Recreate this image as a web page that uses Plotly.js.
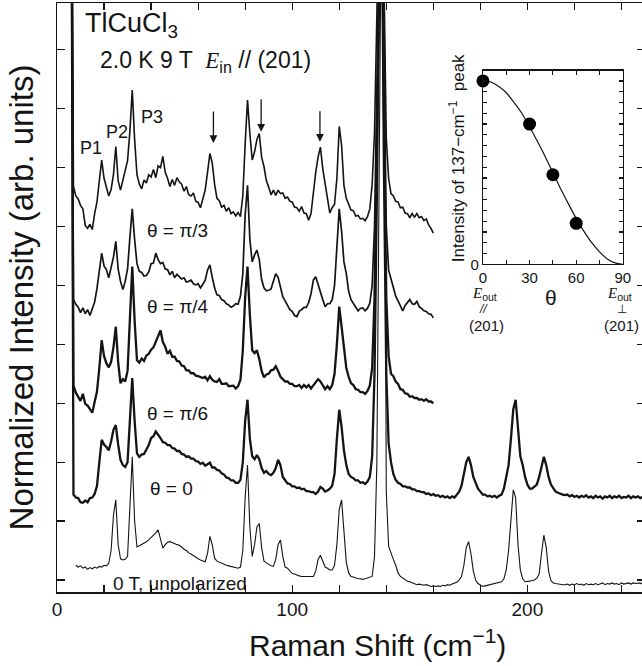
<!DOCTYPE html>
<html><head><meta charset="utf-8">
<script src="https://cdn.plot.ly/plotly-3.0.1.min.js"></script>
<style>html,body{margin:0;padding:0;overflow:hidden;background:#fff;width:642px;height:666px}</style>
</head><body><div id="chart" style="width:660px;height:666px"></div>
<script>
// Raman shift channels: spectra sampled every 1 cm^-1
const startAngled = 6;   // theta = pi/3, pi/4, pi/6 spectra: 6..160 cm^-1
const startTheta0 = 6;   // theta = 0 spectrum: 6..250 cm^-1
const start0T = 8;       // 0 T unpolarized spectrum: 8..250 cm^-1

const specPi3 = [
14.0,6.68,6.52,6.47,6.36,6.30,6.02,5.97,6.04,5.95,
6.22,6.42,6.78,7.13,6.82,6.66,6.52,6.63,6.88,7.36,
6.78,6.62,6.78,6.93,7.12,7.62,8.32,7.48,6.88,6.72,
6.64,6.79,6.74,6.88,6.84,6.97,6.83,7.03,7.00,7.19,
6.92,6.82,6.68,6.80,6.70,6.83,6.76,6.72,6.60,6.68,
6.54,6.52,6.57,6.43,6.41,6.32,6.47,6.62,6.92,7.24,
7.08,6.72,6.48,6.44,6.33,6.36,6.26,6.32,6.22,6.25,
6.18,6.24,6.17,6.52,7.40,8.15,7.58,7.13,7.27,7.48,
7.58,7.18,7.02,6.78,6.67,6.54,6.62,6.53,6.62,6.56,
6.57,6.48,6.50,6.43,6.42,6.33,6.32,6.26,6.34,6.23,
6.22,6.11,6.22,6.58,6.92,7.18,7.35,6.98,6.70,6.48,
6.23,6.32,6.38,6.82,7.70,7.38,6.70,6.48,6.36,6.28,
6.27,6.18,6.19,6.13,6.14,6.10,6.17,6.30,6.72,7.6,
9.6,13.0,14.0,10.2,7.5,6.82,6.56,6.52,6.43,6.42,
6.32,6.33,6.23,6.22,6.15,6.22,6.16,6.22,6.15,6.17,
6.10,6.13,6.03,5.97,5.89];

const specPi4 = [
14.0,4.76,4.68,4.63,4.54,4.62,4.52,4.59,4.49,4.61,
4.72,4.95,5.30,5.55,5.33,5.27,5.13,5.32,5.48,5.75,
5.28,5.07,4.93,5.07,5.28,5.82,6.30,5.78,5.37,5.24,
5.22,5.16,5.17,5.23,5.37,5.38,5.55,5.44,5.37,5.39,
5.28,5.27,5.18,5.24,5.13,5.19,5.14,5.11,5.13,5.06,
5.07,5.09,5.03,5.01,5.03,4.96,5.02,5.09,5.26,5.35,
5.14,4.96,4.84,4.83,4.76,4.74,4.69,4.67,4.63,4.65,
4.69,4.68,4.82,5.20,6.20,6.70,5.78,5.40,5.52,5.60,
5.44,5.10,4.96,4.91,4.92,4.94,5.07,5.20,5.14,4.96,
4.81,4.74,4.66,4.59,4.56,4.49,4.47,4.56,4.59,4.63,
4.63,4.71,4.86,5.09,5.15,5.01,4.89,4.76,4.64,4.69,
4.69,4.76,5.00,5.60,6.30,5.92,5.40,5.20,4.90,4.76,
4.69,4.63,4.57,4.61,4.62,4.57,4.61,4.70,5.00,6.0,
8.5,12.0,13.0,9.0,6.0,5.26,5.10,4.94,4.82,4.74,
4.66,4.57,4.66,4.71,4.76,4.69,4.68,4.73,4.64,4.61,
4.57,4.56,4.52,4.51,4.45];

const specPi6 = [
14.0,3.30,3.18,3.12,3.04,3.16,2.99,2.96,2.89,2.84,
3.02,3.20,3.60,4.07,3.80,3.68,3.61,3.70,3.95,4.30,
3.70,3.34,3.41,3.37,3.55,4.40,5.32,4.40,3.73,3.69,
3.76,3.72,3.81,3.84,3.91,3.95,4.06,4.14,4.24,4.04,
3.96,3.84,3.89,3.79,3.79,3.72,3.71,3.64,3.63,3.56,
3.56,3.51,3.51,3.47,3.46,3.44,3.43,3.45,3.39,3.46,
3.40,3.37,3.36,3.41,3.33,3.33,3.34,3.29,3.29,3.30,
3.25,3.29,3.40,3.90,4.80,5.32,4.50,3.90,3.85,3.90,
3.75,3.55,3.44,3.49,3.50,3.56,3.57,3.63,3.55,3.45,
3.41,3.37,3.37,3.33,3.33,3.29,3.29,3.31,3.26,3.31,
3.27,3.31,3.25,3.31,3.35,3.41,3.37,3.31,3.24,3.29,
3.24,3.31,3.50,4.00,4.64,4.30,3.90,3.60,3.45,3.34,
3.31,3.24,3.23,3.19,3.19,3.16,3.21,3.30,3.60,4.8,
7.5,11.0,12.5,8.0,4.8,3.80,3.50,3.46,3.37,3.33,
3.24,3.23,3.17,3.16,3.11,3.12,3.09,3.09,3.06,3.07,
3.04,3.07,3.03,3.03,3.00];

const specTheta0 = [
14.0,1.45,1.40,1.39,1.32,1.31,1.35,1.32,1.39,1.40,
1.46,1.60,2.00,2.38,2.30,2.26,2.20,2.35,2.55,2.63,
2.30,2.04,1.95,1.92,2.00,2.80,3.43,2.70,2.15,2.09,
2.13,2.14,2.21,2.29,2.41,2.44,2.52,2.47,2.41,2.34,
2.33,2.29,2.29,2.24,2.23,2.19,2.19,2.14,2.13,2.09,
2.10,2.06,2.06,2.02,2.01,1.97,1.99,1.94,1.96,1.99,
1.91,1.91,1.87,1.86,1.81,1.79,1.74,1.73,1.69,1.69,
1.65,1.65,1.70,2.00,2.70,3.06,2.40,2.10,2.05,2.12,
2.05,1.90,1.82,1.85,1.80,1.78,1.82,1.90,2.04,1.95,
1.75,1.69,1.64,1.63,1.59,1.59,1.56,1.57,1.54,1.55,
1.51,1.51,1.49,1.49,1.46,1.50,1.58,1.55,1.50,1.52,
1.55,1.60,1.80,2.40,2.89,2.60,2.20,1.95,1.80,1.75,
1.73,1.69,1.69,1.65,1.66,1.63,1.67,1.75,2.10,3.5,
6.5,10.5,12.0,7.0,3.5,2.32,2.00,1.80,1.70,1.65,
1.63,1.59,1.59,1.57,1.57,1.54,1.54,1.51,1.51,1.49,
1.49,1.46,1.47,1.44,1.46,1.43,1.44,1.41,1.43,1.40,
1.42,1.39,1.42,1.40,1.45,1.50,1.60,1.80,2.00,2.09,
1.95,1.75,1.65,1.55,1.50,1.45,1.45,1.42,1.43,1.41,
1.43,1.40,1.43,1.45,1.55,1.75,1.95,2.40,2.90,3.06,
2.60,2.10,1.95,1.75,1.62,1.55,1.55,1.58,1.62,1.75,
1.95,2.09,1.95,1.75,1.62,1.55,1.50,1.48,1.46,1.45,
1.44,1.45,1.42,1.44,1.41,1.43,1.40,1.43,1.41,1.44,
1.40,1.42,1.39,1.43,1.40,1.42,1.38,1.42,1.40,1.43,
1.39,1.42,1.40,1.43,1.39,1.41,1.40,1.43,1.39,1.42,
1.40,1.42,1.39,1.41,1.40];

const spec0T = [
0.25,0.22,0.24,0.20,0.22,0.18,0.21,0.19,0.22,0.20,
0.23,0.22,0.25,0.24,0.28,0.50,1.10,1.36,0.60,0.36,
0.34,0.35,0.40,1.20,2.09,1.00,0.56,0.58,0.60,0.63,
0.65,0.68,0.72,0.75,0.80,0.85,0.70,0.54,0.60,0.64,
0.65,0.64,0.62,0.60,0.59,0.56,0.52,0.50,0.46,0.44,
0.41,0.38,0.36,0.34,0.33,0.31,0.45,0.74,0.60,0.37,
0.32,0.30,0.28,0.27,0.25,0.24,0.23,0.22,0.21,0.20,
0.22,0.50,1.40,1.95,0.90,0.40,0.60,0.90,0.96,0.55,
0.32,0.29,0.26,0.24,0.23,0.35,0.60,0.68,0.40,0.22,
0.20,0.15,0.11,0.10,0.08,0.07,0.06,0.06,0.05,0.05,
0.05,0.06,0.15,0.35,0.42,0.30,0.22,0.20,0.17,0.17,
0.25,0.60,1.20,1.36,0.80,0.30,0.12,0.06,0.05,0.03,
0.02,0.02,0.01,0.02,0.03,0.05,0.06,0.40,2.0,7.0,
12.0,12.0,1.5,0.57,0.45,0.35,0.25,0.12,0.06,0.03,
0.00,-0.02,-0.03,-0.05,-0.06,-0.08,-0.07,-0.08,-0.09,-0.08,
-0.10,-0.11,-0.10,-0.11,-0.10,-0.11,-0.09,-0.10,-0.08,-0.09,
-0.07,-0.06,-0.04,0.00,0.06,0.25,0.55,0.65,0.45,0.15,
0.00,-0.06,-0.09,-0.11,-0.10,-0.09,-0.08,-0.08,-0.07,-0.06,
-0.05,-0.03,0.02,0.17,0.50,1.10,1.53,1.40,0.60,0.17,
0.02,-0.03,-0.03,-0.02,-0.01,0.00,0.03,0.10,0.45,0.76,
0.55,0.15,-0.01,-0.05,-0.06,-0.07,-0.08,-0.08,-0.08,-0.07,
-0.09,-0.07,-0.08,-0.06,-0.08,-0.07,-0.09,-0.06,-0.08,-0.07,
-0.08,-0.06,-0.08,-0.07,-0.05,-0.08,-0.06,-0.07,-0.05,-0.07,
-0.06,-0.08,-0.05,-0.07,-0.06,-0.05,-0.07,-0.05,-0.06,-0.06,
-0.05,-0.07,-0.06];

// main x-axis: labelled ticks every 100, minor ticks every 20
const xTickVals = [0, 100, 200];
const xMinorStep = 20;

// inset: intensity of the 137 cm^-1 peak vs theta
const insetTheta = [0, 30, 45, 60];
const insetIntensity = [17.0, 13.0, 8.3, 3.8];
const fitTheta = [0,5,10,15,20,25,30,35,40,45,50,55,60,65,70,75,80,85,90];
const fitIntensity = [17.0,16.9,16.5,15.9,15.0,14.0,12.75,11.4,10.0,8.5,7.0,5.6,4.25,3.05,2.0,1.15,0.5,0.13,0.0];
const insetXTickVals = [0, 30, 60, 90];
const insetXMinorStep = 15;
const insetYTickVals = [0];
const insetYMinorStep = 1;

function shifts(start, n){ const a=[]; for(let i=0;i<n;i++) a.push(start+i); return a; }

const SANS = '"Liberation Sans", Arial, Helvetica, sans-serif';
const SERIF_E = (sub) => '<span style="font-family:\'Liberation Serif\',serif;font-style:italic">E</span><sub>' + sub + '</sub>';
const INK = '#141414';

function spec(start, vals, w){
  return {type:'scatter', mode:'lines', x:shifts(start, vals.length), y:vals,
    line:{color:INK, width:w}, xaxis:'x', yaxis:'y', hoverinfo:'skip'};
}

const traces = [
  spec(start0T, spec0T, 1.1),
  spec(startTheta0, specTheta0, 2.3),
  spec(startAngled, specPi6, 2.3),
  spec(startAngled, specPi4, 1.7),
  spec(startAngled, specPi3, 1.6),
  {type:'scatter', mode:'lines', x:fitTheta, y:fitIntensity, line:{color:INK, width:1.2, shape:'spline'}, xaxis:'x2', yaxis:'y2', hoverinfo:'skip'},
  {type:'scatter', mode:'markers', x:insetTheta, y:insetIntensity, marker:{color:'#000', size:13}, xaxis:'x2', yaxis:'y2', cliponaxis:false, hoverinfo:'skip'}
];

function lbl(text, x, y, size, xanchor){
  return {text:text, x:x, y:y, xref:'x', yref:'y', showarrow:false, xanchor:xanchor||'center', yanchor:'middle', font:{size:size, family:SANS, color:INK}};
}
function arrow(x, y, len){
  return {text:'', x:x, y:y, xref:'x', yref:'y', showarrow:true, ax:0, ay:-len, arrowhead:2, arrowsize:1.2, arrowwidth:1.3, arrowcolor:INK, standoff:0};
}
function plbl(text, x, y, size, angle){
  return {text:text, x:x, y:y, xref:'paper', yref:'paper', showarrow:false, xanchor:'center', yanchor:'middle', textangle:angle||0, font:{size:size, family:SANS, color:INK}};
}

const annotations = [
  lbl('TlCuCl<sub>3</sub>', 11.2, 9.42, 27, 'left'),
  lbl('2.0 K 9 T  ' + SERIF_E('in') + ' // (201)', 17.5, 8.8, 23, 'left'),
  lbl('P1', 14.6, 7.33, 18), lbl('P2', 25.6, 7.61, 18), lbl('P3', 40.3, 7.86, 18),
  arrow(66.5, 7.42, 33), arrow(86.8, 7.61, 34), arrow(111.8, 7.44, 32),
  lbl('θ = π/3', 51.3, 5.94, 19), lbl('θ = π/4', 51.3, 4.64, 19),
  lbl('θ = π/6', 51.3, 2.83, 19), lbl('θ = 0', 48.5, 1.56, 19),
  lbl('0 T, unpolarized', 52.4, -0.06, 19),
  // x-axis title (placed as in the reference, right of the plot centre)
  plbl('Raman Shift (cm<sup>−1</sup>)', 0.5446, -0.0866, 30),
  // inset y title
  plbl('Intensity of 137−cm<sup>−1</sup>  peak', 0.6805, 0.7368, 17, -90),
  // inset labels under its theta axis
  plbl(SERIF_E('out'), 0.7273, 0.5059, 15), plbl('<i>//</i>', 0.7256, 0.4805, 12), plbl('(201)', 0.7307, 0.4533, 15),
  plbl(SERIF_E('out'), 0.9567, 0.5059, 15), plbl('⊥', 0.9601, 0.4805, 12), plbl('(201)', 0.9601, 0.4533, 15),
  plbl('θ', 0.8394, 0.4992, 21)
];

const axBase = {showline:true, linecolor:INK, linewidth:1.5, mirror:'ticks', ticks:'inside', tickcolor:INK, tickwidth:1.2, showgrid:false, zeroline:false, automargin:false};

const layout = {
  width:660, height:666,
  margin:{l:57, r:14.5, t:3, b:74},
  paper_bgcolor:'#fff', plot_bgcolor:'#fff', showlegend:false,
  font:{family:SANS, color:INK},
  xaxis:Object.assign({}, axBase, {range:[0,250], tickmode:'array', tickvals:xTickVals, ticklen:7, tickfont:{size:19},
    minor:{tick0:0, dtick:xMinorStep, ticks:'inside', ticklen:7, tickcolor:INK, tickwidth:1.2, showgrid:false}}),
  yaxis:Object.assign({}, axBase, {range:[-0.204, 9.796], tick0:0, dtick:1, ticklen:8, showticklabels:false,
    title:{text:'Normalized Intensity (arb. units)', font:{size:33}, standoff:12}}),
  xaxis2:Object.assign({}, axBase, {domain:[0.7244,0.9623], anchor:'y2', range:[0,90], tickmode:'array', tickvals:insetXTickVals,
    ticklen:4, linewidth:1.2, tickfont:{size:15},
    minor:{tick0:0, dtick:insetXMinorStep, ticks:'inside', ticklen:4, tickcolor:INK, tickwidth:1.2, showgrid:false}}),
  yaxis2:Object.assign({}, axBase, {domain:[0.5564,0.8851], anchor:'x2', range:[0,17.95], tickmode:'array', tickvals:insetYTickVals,
    ticklen:4, linewidth:1.2, tickfont:{size:15},
    minor:{tick0:0, dtick:insetYMinorStep, ticks:'inside', ticklen:4, tickcolor:INK, tickwidth:1.2, showgrid:false}}),
  annotations:annotations
};

Plotly.newPlot('chart', traces, layout, {staticPlot:true, displayModeBar:false});
</script>
</body></html>
